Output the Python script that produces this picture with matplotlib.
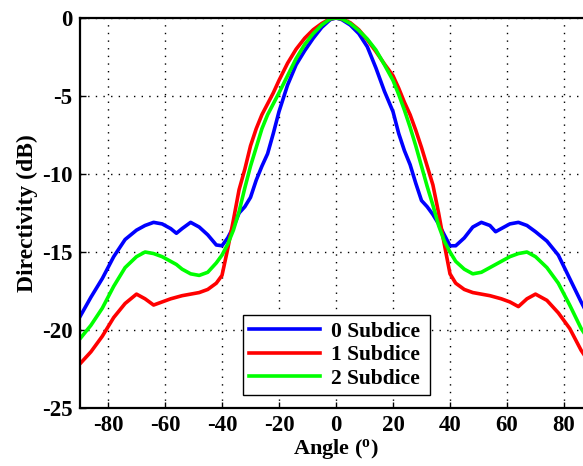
import matplotlib
matplotlib.use("Agg")
import matplotlib.pyplot as plt

angles = [-90, -86, -82, -78, -74, -70, -67, -64, -61, -58, -56, -54, -51, -48, -45, -42, -40,
          -38, -36, -34, -32, -30, -28, -26, -24, -22, -20, -17, -14, -11, -8, -5, -2, 0,
          2, 5, 8, 11, 14, 17, 20, 22, 24, 26, 28, 30, 32, 34, 36, 38, 40,
          42, 45, 48, 51, 54, 56, 58, 61, 64, 67, 70, 74, 78, 82, 86, 90]

dir_0 = [-19.2, -17.9, -16.7, -15.3, -14.2, -13.6, -13.3, -13.1, -13.2, -13.5, -13.8, -13.5, -13.1, -13.4, -13.9, -14.55, -14.6,
         -14.1, -13.4, -12.5, -12.1, -11.5, -10.4, -9.5, -8.7, -7.4, -6.0, -4.3, -3.0, -2.1, -1.3, -0.6, -0.1, 0.0,
         -0.1, -0.45, -1.0, -1.85, -3.2, -4.7, -6.0, -7.4, -8.5, -9.4, -10.6, -11.7, -12.1, -12.6, -13.2, -13.9, -14.6,
         -14.6, -14.1, -13.4, -13.1, -13.3, -13.7, -13.5, -13.2, -13.1, -13.3, -13.7, -14.3, -15.2, -16.7, -18.2, -19.6]

dir_1 = [-22.2, -21.4, -20.4, -19.2, -18.3, -17.7, -18.0, -18.4, -18.2, -18.0, -17.9, -17.8, -17.7, -17.6, -17.4, -17.0, -16.5,
         -14.8, -12.95, -11.0, -9.7, -8.2, -7.1, -6.2, -5.5, -4.8, -4.0, -2.9, -2.0, -1.3, -0.75, -0.35, -0.05, 0.0,
         -0.05, -0.3, -0.75, -1.4, -2.15, -2.95, -3.7, -4.5, -5.4, -6.2, -7.2, -8.3, -9.5, -10.7, -12.5, -14.5, -16.4,
         -17.0, -17.4, -17.6, -17.7, -17.8, -17.9, -18.0, -18.2, -18.5, -18.0, -17.7, -18.1, -18.9, -19.9, -21.3, -22.4]

dir_2 = [-20.6, -19.7, -18.6, -17.2, -16.0, -15.3, -15.0, -15.1, -15.3, -15.6, -15.8, -16.1, -16.4, -16.5, -16.3, -15.7, -15.2,
         -14.5, -13.6, -12.4, -10.9, -9.5, -8.3, -7.1, -6.2, -5.5, -4.8, -3.7, -2.6, -1.7, -1.0, -0.45, -0.05, 0.0,
         -0.05, -0.35, -0.8, -1.35, -2.05, -3.0, -4.0, -4.9, -5.9, -7.0, -8.2, -9.5, -10.8, -12.0, -13.3, -14.3, -15.0,
         -15.6, -16.1, -16.4, -16.3, -16.0, -15.8, -15.6, -15.3, -15.1, -15.0, -15.3, -16.0, -17.0, -18.4, -19.9, -21.0]

series_labels = ["0 Subdice", "1 Subdice", "2 Subdice"]
series_colors = ["#0000ff", "#ff0000", "#00ff00"]
x_ticks = [-80, -60, -40, -20, 0, 20, 40, 60, 80]
y_ticks = [-25, -20, -15, -10, -5, 0]

plt.rcParams['font.family'] = ['Liberation Serif', 'DejaVu Serif']
plt.rcParams['font.weight'] = 'bold'
plt.rcParams['mathtext.fontset'] = 'custom'
plt.rcParams['mathtext.rm'] = 'Liberation Serif:bold'
plt.rcParams['mathtext.bf'] = 'Liberation Serif:bold'
plt.rcParams['mathtext.it'] = 'Liberation Serif:bold'

fig = plt.figure(figsize=(5.83, 4.66), dpi=100)
ax = fig.add_axes([79.5 / 583, 58 / 466, 513 / 583, 390 / 466])

for vals, lab, col in zip([dir_0, dir_1, dir_2], series_labels, series_colors):
    ax.plot(angles, vals, color=col, lw=2.6, label=lab)

ax.set_xlim(-90, 90)
ax.set_ylim(-25, 0)
ax.set_xticks(x_ticks)
ax.set_yticks(y_ticks)
ax.set_xticklabels([str(t) for t in x_ticks], fontsize=16.5, fontweight='bold')
ax.set_yticklabels([str(t) for t in y_ticks], fontsize=16.5, fontweight='bold')
ax.tick_params(direction='in', length=4, width=1, pad=5)
ax.grid(True, color='black', linestyle=(0, (1, 4.5)), linewidth=1.0)
for s in ax.spines.values():
    s.set_linewidth(1.6)

ax.set_xlabel(r'Angle ($^{\mathrm{o}}$)', fontsize=16, fontweight='bold', labelpad=1)
ax.set_ylabel('Directivity (dB)', fontsize=17, fontweight='bold', labelpad=3)

leg = ax.legend(loc='lower left', bbox_to_anchor=(163 / 513, 13 / 390, 187 / 513, 89 / 390),
                mode='expand', prop={'weight': 'bold', 'size': 15.5},
                fancybox=False, framealpha=1, edgecolor='black', handlelength=3.3,
                handletextpad=0.5, borderaxespad=0, labelspacing=0.15, borderpad=0.3)
leg.get_frame().set_linewidth(1.0)

fig.savefig('out.png', dpi=100)
